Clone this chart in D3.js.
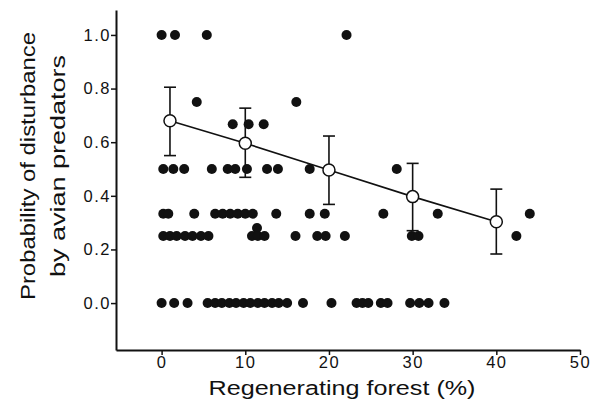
<!DOCTYPE html>
<head>
    <meta charset="utf-8">
    <script src="https://d3js.org/d3.v7.min.js"></script>
    <style>
      body { margin: 0; background: #fff; }
      text {
        font-family: "Liberation Sans", Arial, sans-serif;
        fill: #111;
      }
      .ticklabel { font-size: 16.5px; letter-spacing: 1.5px; }
      .axistitle { font-size: 20px; }
    </style>
</head>
<body>
    <script>
        // raw observations, one array per probability level
        var probLevels = [1.0, 0.75, 0.667, 0.5, 0.333, 0.28, 0.25, 0.0];
        var forest100 = [0, 1.6, 5.4, 22.1];
        var forest075 = [4.2, 16.1];
        var forest067 = [8.5, 10.4, 12.2];
        var forest050 = [0.2, 1.4, 2.7, 6.0, 7.9, 8.8, 10.2, 12.6, 13.9, 17.7, 28.1];
        var forest033 = [0.2, 0.8, 3.9, 6.4, 7.3, 8.2, 9.1, 10.0, 10.9, 13.7, 17.7, 19.5, 26.5, 33.0, 44.0];
        var forest028 = [11.4];
        var forest025 = [0.2, 1.0, 1.8, 2.8, 3.7, 4.7, 5.6, 10.8, 11.5, 12.3, 16.0, 18.6, 19.6, 21.9, 29.9, 30.7, 42.4];
        var forest000 = [0, 1.5, 3.1, 5.5, 6.4, 7.2, 8.1, 8.9, 9.8, 10.6, 11.5, 12.3, 13.2, 14.0, 15.0,
                         16.9, 20.3, 23.3, 24.0, 24.7, 26.2, 27.0, 29.7, 30.8, 31.9, 33.8];
        var forestRows = [forest100, forest075, forest067, forest050, forest033, forest028, forest025, forest000];

        // group means with error bars
        var meanX = [1, 10, 20, 30, 40];
        var meanY = [0.68, 0.596, 0.496, 0.397, 0.303];
        var errLow = [0.55, 0.469, 0.368, 0.27, 0.183];
        var errHigh = [0.805, 0.727, 0.623, 0.521, 0.425];

        var xTicks = [0, 10, 20, 30, 40, 50];
        var yTicks = [0, 0.2, 0.4, 0.6, 0.8, 1.0];

        var points = [];
        forestRows.forEach(function(row, i) {
          row.forEach(function(v) { points.push({x: v, y: probLevels[i]}); });
        });
        var means = meanX.map(function(v, i) {
          return {x: v, y: meanY[i], lo: errLow[i], hi: errHigh[i]};
        });

        var svg = d3.select("body").append("svg")
          .attr("width", 591)
          .attr("height", 410);

        var x = d3.scaleLinear().domain([-5.45, 50]).range([116, 580]);
        var y = d3.scaleLinear().domain([-0.175, 1.093]).range([350, 10]);

        var xAxis = svg.append("g")
          .attr("transform", "translate(0,350)")
          .call(d3.axisBottom(x).tickValues(xTicks).tickSizeInner(5).tickSizeOuter(0).tickPadding(1)
            .tickFormat(d3.format("d")));
        var yAxis = svg.append("g")
          .attr("transform", "translate(116,0)")
          .call(d3.axisLeft(y).tickValues(yTicks).tickSizeInner(5).tickSizeOuter(0).tickPadding(0)
            .tickFormat(d3.format(".1f")));
        [xAxis, yAxis].forEach(function(a) {
          a.attr("font-family", null).attr("font-size", null);
          a.selectAll(".domain").attr("stroke", "#111").attr("stroke-width", 2);
          a.selectAll(".tick line").attr("stroke", "#111").attr("stroke-width", 1.5);
          a.selectAll(".tick text").classed("ticklabel", true);
        });

        // scatter
        svg.append("g").selectAll("circle").data(points).enter()
          .append("circle")
          .attr("cx", function(d) { return x(d.x); })
          .attr("cy", function(d) { return y(d.y); })
          .attr("r", 5)
          .attr("fill", "#111");

        // error bars
        var bars = svg.append("g").attr("stroke", "#111").attr("stroke-width", 1.6);
        bars.selectAll(".ebar").data(means).enter()
          .append("line").classed("ebar", true)
          .attr("x1", function(d) { return x(d.x); })
          .attr("x2", function(d) { return x(d.x); })
          .attr("y1", function(d) { return y(d.lo); })
          .attr("y2", function(d) { return y(d.hi); });
        bars.selectAll(".capHi").data(means).enter()
          .append("line").classed("capHi", true)
          .attr("x1", function(d) { return x(d.x) - 6; })
          .attr("x2", function(d) { return x(d.x) + 6; })
          .attr("y1", function(d) { return y(d.hi); })
          .attr("y2", function(d) { return y(d.hi); });
        bars.selectAll(".capLo").data(means).enter()
          .append("line").classed("capLo", true)
          .attr("x1", function(d) { return x(d.x) - 6; })
          .attr("x2", function(d) { return x(d.x) + 6; })
          .attr("y1", function(d) { return y(d.lo); })
          .attr("y2", function(d) { return y(d.lo); });

        var line = d3.line()
          .x(function(d) { return x(d.x); })
          .y(function(d) { return y(d.y); });
        svg.append("path")
          .datum(means)
          .attr("d", line)
          .attr("fill", "none")
          .attr("stroke", "#111")
          .attr("stroke-width", 1.6);

        svg.append("g").selectAll("circle").data(means).enter()
          .append("circle")
          .attr("cx", function(d) { return x(d.x); })
          .attr("cy", function(d) { return y(d.y); })
          .attr("r", 6)
          .attr("fill", "#fff")
          .attr("stroke", "#111")
          .attr("stroke-width", 1.5);

        // titles
        svg.append("text")
          .classed("axistitle", true)
          .attr("x", 342)
          .attr("y", 395)
          .attr("text-anchor", "middle")
          .attr("textLength", 267)
          .attr("lengthAdjust", "spacingAndGlyphs")
          .text("Regenerating forest (%)");
        svg.append("text")
          .classed("axistitle", true)
          .attr("transform", "translate(35,166) rotate(-90)")
          .attr("text-anchor", "middle")
          .attr("textLength", 268)
          .attr("lengthAdjust", "spacingAndGlyphs")
          .text("Probability of disturbance");
        svg.append("text")
          .classed("axistitle", true)
          .attr("transform", "translate(65,166) rotate(-90)")
          .attr("text-anchor", "middle")
          .attr("textLength", 222)
          .attr("lengthAdjust", "spacingAndGlyphs")
          .text("by avian predators");
    </script>
</body>
